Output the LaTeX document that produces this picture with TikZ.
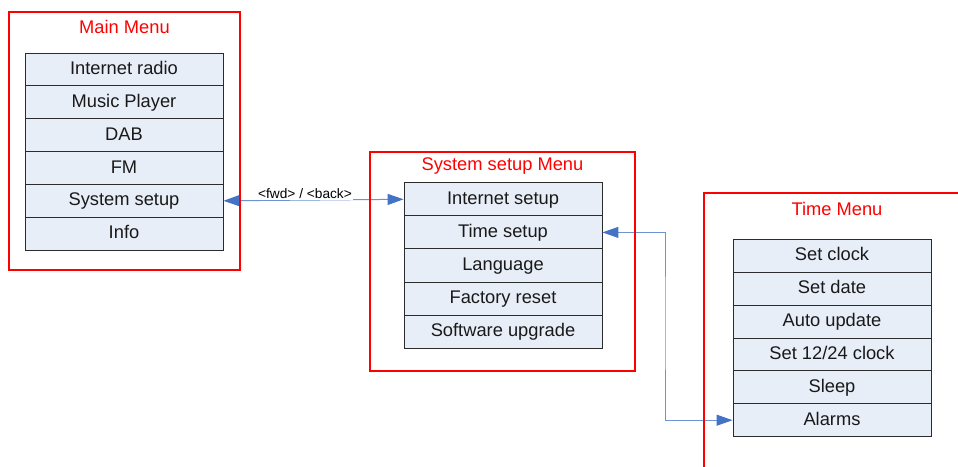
\documentclass[tikz,border=0pt]{standalone}
\usepackage{fontspec}
\setmainfont{Liberation Sans}
\usetikzlibrary{arrows.meta}
\definecolor{boxfill}{HTML}{E8EEF8}
\definecolor{boxline}{HTML}{2B2B2B}
\definecolor{conline}{HTML}{6D93D2}
\definecolor{contip}{HTML}{4472C4}
\definecolor{framered}{HTML}{FF0000}
\begin{document}
\begin{tikzpicture}[x=1pt,y=-1pt,
  menuitem/.style={draw=boxline,line width=0.9pt,fill=boxfill,minimum width=198pt,
    inner sep=0pt,anchor=center,text height=14pt,text depth=3.8pt,
    font=\fontsize{18.3}{20}\selectfont,text=black!90},
  frame/.style={draw=framered,line width=2pt},
  frametitle/.style={text=framered,font=\fontsize{18.3}{20}\selectfont,inner sep=0pt},
  conn/.style={draw=conline,line width=1pt,
    {Triangle[length=16pt,width=11pt,color=contip]}-{Triangle[length=16pt,width=11pt,color=contip]}},
  conlabel/.style={fill=white,inner sep=1.5pt,font=\fontsize{13.7}{15}\selectfont}]
\useasboundingbox (0,0) rectangle (958,466);
\fill[white] (0,0) rectangle (958,466);
% Main menu
\node[menuitem,minimum height=32.83pt] (m1) at (124,69.4) {Internet radio};
\node[menuitem,minimum height=32.83pt] (m2) at (124,102.2) {Music Player};
\node[menuitem,minimum height=32.83pt] (m3) at (124,135.1) {DAB};
\node[menuitem,minimum height=32.83pt] (m4) at (124,167.9) {FM};
\node[menuitem,minimum height=32.83pt] (m5) at (124,200.8) {System setup};
\node[menuitem,minimum height=32.83pt] (m6) at (124,233.6) {Info};
% System setup menu
\node[menuitem,minimum height=33.12pt] (s1) at (503,199.3) {Internet setup};
\node[menuitem,minimum height=33.12pt] (s2) at (503,232.4) {Time setup};
\node[menuitem,minimum height=33.12pt] (s3) at (503,265.5) {Language};
\node[menuitem,minimum height=33.12pt] (s4) at (503,298.6) {Factory reset};
\node[menuitem,minimum height=33.12pt] (s5) at (503,331.7) {Software upgrade};
% Time menu
\node[menuitem,minimum height=32.9pt] (t1) at (832,255.7) {Set clock};
\node[menuitem,minimum height=32.9pt] (t2) at (832,288.6) {Set date};
\node[menuitem,minimum height=32.9pt] (t3) at (832,321.5) {Auto update};
\node[menuitem,minimum height=32.9pt] (t4) at (832,354.4) {Set 12/24 clock};
\node[menuitem,minimum height=32.9pt] (t5) at (832,387.3) {Sleep};
\node[menuitem,minimum height=32.9pt] (t6) at (832,420.2) {Alarms};
% connectors
\draw[conn] (m5.east) -- (s1.west);
\node[conlabel] (lbl) at (305,193.5) {<fwd> / <back>};
\coordinate (bend) at (665,320);
\draw[conn] (s2.east) -| (bend) |- (t6.west);
% frames
\draw[frame] (9,12) rectangle (240,269.5);
\draw[frame] (370,151.5) rectangle (635,370.5);
\draw[draw=framered,line width=1.4pt] (704,470) -- (704,193) -- (962,193);
% titles
\node[frametitle] (tm) at (124.5,27) {Main Menu};
\node[frametitle] (ts) at (502.5,166.5) {System setup Menu};
\node[frametitle] (tt) at (837,209) {Time Menu};
\end{tikzpicture}
\end{document}
